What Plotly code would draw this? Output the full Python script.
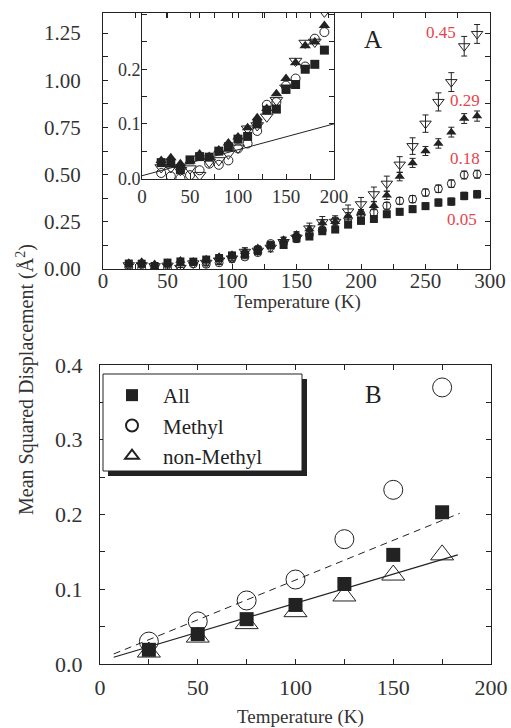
import plotly.graph_objects as go

# ---------------- Panel A data (T in K, MSD in Å^2) ----------------
temps = [20, 30, 40, 50, 60, 70, 80, 90, 100, 110, 120, 130, 140, 150,
         160, 170, 180, 190, 200, 210, 220, 230, 240, 250, 260, 270, 280, 290]
msd_005 = [0.029, 0.028, 0.016, 0.034, 0.040, 0.039, 0.050, 0.058, 0.072, 0.077,
           0.100, 0.125, 0.127, 0.163, 0.172, 0.200, 0.209, 0.235, 0.255, 0.265,
           0.290, 0.303, 0.317, 0.333, 0.352, 0.357, 0.387, 0.396]
msd_018 = [0.010, 0.004, 0.000, 0.006, 0.015, 0.027, 0.025, 0.033, 0.055, 0.064,
           0.087, 0.135, 0.140, 0.170, 0.183, 0.205, 0.256, 0.268, 0.290, 0.300,
           0.335, 0.361, 0.370, 0.405, 0.425, 0.452, 0.498, 0.502]
msd_029 = [0.033, 0.038, 0.027, 0.032, 0.045, 0.040, 0.052, 0.065, 0.076, 0.093,
           0.111, 0.128, 0.155, 0.183, 0.212, 0.243, 0.250, 0.280, 0.295, 0.335,
           0.390, 0.490, 0.562, 0.625, 0.665, 0.725, 0.797, 0.810]
msd_045 = [0.020, 0.020, 0.015, 0.018, 0.006, 0.030, 0.033, 0.045, 0.056, 0.091,
           0.097, 0.113, 0.143, 0.166, 0.215, 0.248, 0.250, 0.305, 0.343, 0.396,
           0.452, 0.553, 0.651, 0.770, 0.885, 0.990, 1.180, 1.245]
err_005 = [0.006, 0.006, 0.006, 0.007, 0.007, 0.007, 0.008, 0.008, 0.009, 0.010,
           0.010, 0.011, 0.012, 0.012, 0.013, 0.014, 0.015, 0.015, 0.016, 0.016,
           0.017, 0.017, 0.018, 0.018, 0.019, 0.019, 0.020, 0.020]
err_018 = [0.006, 0.006, 0.006, 0.007, 0.007, 0.008, 0.008, 0.009, 0.009, 0.010,
           0.011, 0.011, 0.012, 0.013, 0.014, 0.015, 0.015, 0.016, 0.016, 0.017,
           0.018, 0.018, 0.019, 0.019, 0.020, 0.020, 0.021, 0.021]
err_029 = [0.007, 0.007, 0.007, 0.008, 0.008, 0.009, 0.009, 0.010, 0.011, 0.012,
           0.012, 0.013, 0.014, 0.015, 0.016, 0.017, 0.018, 0.019, 0.020, 0.021,
           0.022, 0.023, 0.024, 0.024, 0.025, 0.026, 0.026, 0.027]
err_045 = [0.008, 0.008, 0.009, 0.009, 0.010, 0.011, 0.012, 0.014, 0.020, 0.022,
           0.020, 0.022, 0.024, 0.026, 0.028, 0.030, 0.032, 0.034, 0.036, 0.038,
           0.040, 0.042, 0.044, 0.046, 0.048, 0.050, 0.052, 0.050]
series_labels = ["0.05", "0.18", "0.29", "0.45"]
label_pos_T = [278, 281, 281, 262]
label_pos_msd = [0.26, 0.585, 0.89, 1.255]

inset_max_T = 190
inset_line_x = [0, 200]
inset_line_y = [0.005, 0.100]

# ---------------- Panel B data ----------------
b_temps = [25, 50, 75, 100, 125, 150, 175]
b_all = [0.019, 0.040, 0.060, 0.079, 0.107, 0.146, 0.203]
b_methyl = [0.030, 0.057, 0.085, 0.113, 0.167, 0.233, 0.370]
b_nonmethyl = [0.016, 0.036, 0.054, 0.070, 0.091, 0.119, 0.146]
b_names = ["All", "Methyl", "non-Methyl"]
fit_all_x = [7, 183]
fit_all_y = [0.009, 0.146]
fit_methyl_x = [7, 184]
fit_methyl_y = [0.0134, 0.2016]

# tick labels
a_xticks = list(range(0, 301, 25))
a_xtext = [str(v) if v % 50 == 0 else "" for v in a_xticks]
a_yticks = [i * 0.125 for i in range(11)]
a_ytext = ["0.00", "", "0.25", "", "0.50", "", "0.75", "", "1.00", "", "1.25"]
in_xticks = list(range(0, 201, 25))
in_xtext = [str(v) if v % 50 == 0 else "" for v in in_xticks]
in_yticks = [0, 0.05, 0.1, 0.15, 0.2, 0.25, 0.3]
in_ytext = ["0.0", "", "0.1", "", "0.2", "", ""]
b_xticks = list(range(0, 201, 25))
b_xtext = [str(v) if v % 50 == 0 else "" for v in b_xticks]
b_yticks = [i * 0.05 for i in range(9)]
b_ytext = ["0.0", "", "0.1", "", "0.2", "", "0.3", "", "0.4"]

W, H = 511, 728
FONT = "Liberation Serif"
INK = "#222222"
TXT = "#333333"
RED = "#e8434d"


def px(x):
    return x / W


def py(y):
    return 1 - y / H


fig = go.Figure()

series = [
    (msd_005, err_005, dict(symbol="square", size=8, color=INK)),
    (msd_018, err_018, dict(symbol="circle-open", size=8, color=INK, line=dict(width=1, color=INK))),
    (msd_029, err_029, dict(symbol="triangle-up", size=9, color=INK)),
    (msd_045, err_045, dict(symbol="triangle-down-open", size=10, color=INK, line=dict(width=1, color=INK))),
]

# main panel A
for (vals, errs, mk), lab in zip(series, series_labels):
    fig.add_trace(go.Scatter(
        x=temps, y=vals, mode="markers", marker=mk, name=lab, showlegend=False,
        error_y=dict(type="data", array=errs, visible=True, thickness=1, width=3, color=INK),
        xaxis="x", yaxis="y"))

# inset
n_in = sum(1 for t in temps if t <= inset_max_T)
inset_sizes = [9, 9, 10, 11]
for (vals, errs, mk), lab, s in zip(series, series_labels, inset_sizes):
    m = dict(mk)
    m["size"] = s
    fig.add_trace(go.Scatter(
        x=temps[:n_in], y=vals[:n_in], mode="markers", marker=m, name=lab,
        showlegend=False, xaxis="x2", yaxis="y2"))
fig.add_trace(go.Scatter(x=inset_line_x, y=inset_line_y, mode="lines",
                         line=dict(color=INK, width=1), showlegend=False,
                         xaxis="x2", yaxis="y2"))

# panel B
fig.add_trace(go.Scatter(x=fit_methyl_x, y=fit_methyl_y, mode="lines",
                         line=dict(color=INK, width=1, dash="7px,5px"),
                         showlegend=False, xaxis="x3", yaxis="y3"))
fig.add_trace(go.Scatter(x=fit_all_x, y=fit_all_y, mode="lines",
                         line=dict(color=INK, width=1.2),
                         showlegend=False, xaxis="x3", yaxis="y3"))
fig.add_trace(go.Scatter(x=b_temps, y=b_methyl, mode="markers", name=b_names[1], legendrank=2,
                         marker=dict(symbol="circle-open", size=19, color=INK, line=dict(width=1, color=INK)),
                         xaxis="x3", yaxis="y3"))
fig.add_trace(go.Scatter(x=b_temps, y=b_nonmethyl, mode="markers", name=b_names[2], legendrank=3,
                         marker=dict(symbol="triangle-up-open", size=20, color=INK, line=dict(width=1, color=INK)),
                         xaxis="x3", yaxis="y3"))
fig.add_trace(go.Scatter(x=b_temps, y=b_all, mode="markers", name=b_names[0], legendrank=1,
                         marker=dict(symbol="square", size=14, color=INK),
                         xaxis="x3", yaxis="y3"))

axis_common = dict(showline=True, linecolor=INK, linewidth=1, mirror="ticks",
                   ticks="inside", ticklen=5, tickcolor=INK, tickwidth=1,
                   showgrid=False, zeroline=False, tickmode="array")

fig.update_layout(
    width=W, height=H,
    margin=dict(l=0, r=0, t=0, b=0, autoexpand=False),
    paper_bgcolor="white", plot_bgcolor="rgba(0,0,0,0)",
    font=dict(family=FONT, color=TXT),
    xaxis=dict(axis_common, domain=[px(103), px(490)], range=[0, 300], anchor="y",
               tickvals=a_xticks, ticktext=a_xtext, tickfont=dict(size=21),
               ticklabelstandoff=-7),
    yaxis=dict(axis_common, domain=[py(269), py(13)], range=[0, 1.356], anchor="x",
               tickvals=a_yticks, ticktext=a_ytext, tickfont=dict(size=21),
               ticklabelstandoff=17),
    xaxis2=dict(axis_common, domain=[px(142), px(334)], range=[0, 200], anchor="y2",
                tickvals=in_xticks, ticktext=in_xtext, tickfont=dict(size=19),
                ticklabelstandoff=0),
    yaxis2=dict(axis_common, domain=[py(179), py(13)], range=[-0.001, 0.303], anchor="x2",
                tickvals=in_yticks, ticktext=in_ytext, tickfont=dict(size=18),
                ticklabelstandoff=-3),
    xaxis3=dict(axis_common, domain=[px(100), px(491)], range=[0, 200], anchor="y3",
                tickvals=b_xticks, ticktext=b_xtext, tickfont=dict(size=22),
                ticklabelstandoff=4),
    yaxis3=dict(axis_common, domain=[py(664), py(365)], range=[0, 0.4], anchor="x3",
                tickvals=b_yticks, ticktext=b_ytext, tickfont=dict(size=22),
                ticklabelstandoff=12),
    legend=dict(x=px(101), y=py(375), xanchor="left", yanchor="top",
                bgcolor="rgba(0,0,0,0)", borderwidth=0, itemsizing="constant",
                itemwidth=52, traceorder="normal",
                font=dict(family=FONT, size=21, color=INK)),
    showlegend=True,
)

# legend frame with shadow
fig.add_shape(type="rect", xref="paper", yref="paper",
              x0=px(108), x1=px(307), y0=py(476), y1=py(379),
              fillcolor=INK, line=dict(width=0), layer="above")
fig.add_shape(type="rect", xref="paper", yref="paper",
              x0=px(103), x1=px(302), y0=py(471), y1=py(374),
              fillcolor="white", line=dict(width=1, color=INK), layer="above")

ann = []
for lab, tx, ty in zip(series_labels, label_pos_T, label_pos_msd):
    ann.append(dict(x=tx, y=ty, xref="x", yref="y", text=lab, showarrow=False,
                    xanchor="center", yanchor="middle",
                    font=dict(size=17, color=RED, family=FONT)))
ann += [
    dict(x=px(373), y=py(39), xref="paper", yref="paper", text="A", showarrow=False,
         xanchor="center", yanchor="middle", font=dict(size=25, color=INK, family=FONT)),
    dict(x=px(373), y=py(395), xref="paper", yref="paper", text="B", showarrow=False,
         xanchor="center", yanchor="middle", font=dict(size=25, color=INK, family=FONT)),
    dict(x=px(297), y=py(302), xref="paper", yref="paper", text="Temperature (K)",
         xanchor="center", yanchor="middle",
         showarrow=False, font=dict(size=19, color=TXT, family=FONT)),
    dict(x=px(300), y=py(717), xref="paper", yref="paper", text="Temperature (K)",
         xanchor="center", yanchor="middle",
         showarrow=False, font=dict(size=19, color=TXT, family=FONT)),
    dict(x=px(25), y=py(380), xref="paper", yref="paper",
         text="Mean Squared Displacement (Å<sup>2</sup>)", textangle=-90,
         xanchor="center", yanchor="middle",
         showarrow=False, font=dict(size=20, color=TXT, family=FONT)),
]
fig.update_layout(annotations=ann)

fig.write_html("out.html", config={"displayModeBar": False},
               post_script="document.body.style.margin='0';document.body.style.padding='0';")
